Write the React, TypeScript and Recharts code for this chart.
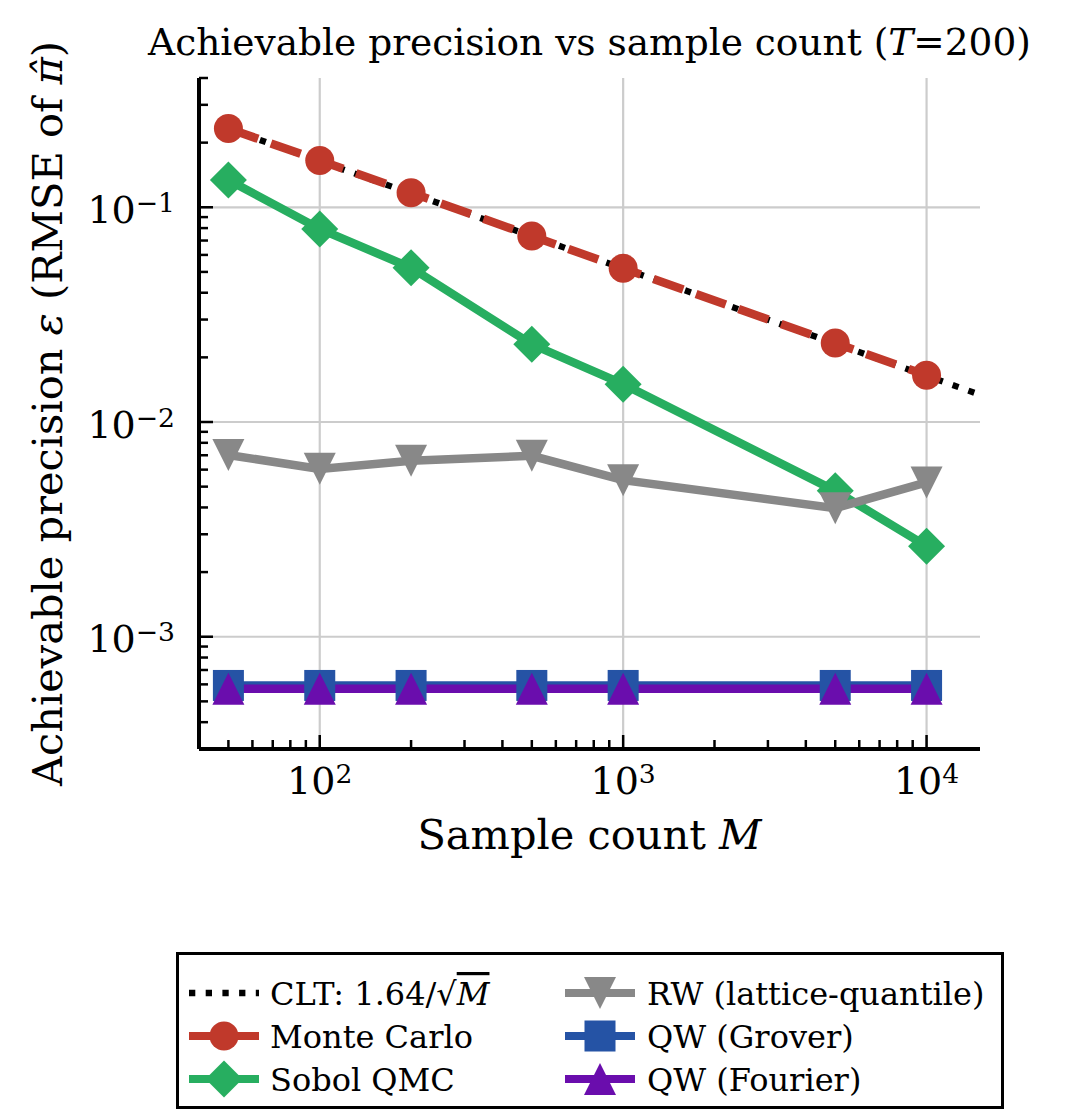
import React from 'react';
import { CartesianGrid, Label, Line, LineChart, XAxis, YAxis } from 'recharts';

const FONT = '"DejaVu Serif", "Liberation Serif", serif';

// sample counts M and the RMSE of each estimator at those counts
const sampleCounts = [50, 100, 200, 500, 1000, 5000, 10000];
const monteCarlo = [0.233, 0.165, 0.117, 0.0735, 0.052, 0.0233, 0.0165];
const sobolQmc = [0.134, 0.0792, 0.0523, 0.023, 0.015, 0.00478, 0.00264];
const rwLattice = [0.00702, 0.00605, 0.0066, 0.00696, 0.00536, 0.00397, 0.00523];
const qwGrover = [0.000593, 0.000593, 0.000593, 0.000593, 0.000593, 0.000593, 0.000593];
const qwFourier = [0.000572, 0.000572, 0.000572, 0.000572, 0.000572, 0.000572, 0.000572];

// CLT reference curve 1.64/sqrt(M)
const cltCounts = [50, 100, 1000, 10000, 15000];
const cltValues = [0.232, 0.164, 0.0519, 0.0164, 0.0134];

const xDomain: [number, number] = [40, 15000];
const yDomain: [number, number] = [3e-4, 0.4];
const xMajorTicks = [100, 1000, 10000];
const yMajorTicks = [0.001, 0.01, 0.1];
const mantissas = [1, 2, 3, 4, 5, 6, 7, 8, 9];

const inDomain = (d: [number, number]) => (v: number) => v >= d[0] * 0.999 && v <= d[1] * 1.001;
const xTicks = [10, 100, 1000, 10000].flatMap((d) => mantissas.map((m) => m * d)).filter(inDomain(xDomain));
const yTicks = [1e-4, 1e-3, 1e-2, 1e-1].flatMap((d) => mantissas.map((m) => m * d)).filter(inDomain(yDomain));

const rows = sampleCounts.map((m, i) => ({
  m,
  mc: monteCarlo[i],
  sobol: sobolQmc[i],
  rw: rwLattice[i],
  grover: qwGrover[i],
  fourier: qwFourier[i],
}));
const cltRows = cltCounts.map((m, i) => ({ m, clt: cltValues[i] }));

type Shape = 'circle' | 'diamond' | 'square' | 'triDown' | 'triUp';

interface SeriesDef {
  key: string;
  name: string;
  color: string;
  width: number;
  dash?: string;
  marker?: Shape;
}

const CLT: SeriesDef = { key: 'clt', name: 'CLT', color: '#000000', width: 6.3, dash: '6.3 10.4' };
const SERIES: SeriesDef[] = [
  { key: 'mc', name: 'Monte Carlo', color: '#c0392b', width: 8.5, dash: '31.5 13.6', marker: 'circle' },
  { key: 'sobol', name: 'Sobol QMC', color: '#27ae60', width: 8.5, marker: 'diamond' },
  { key: 'rw', name: 'RW (lattice-quantile)', color: '#888888', width: 8.5, marker: 'triDown' },
  { key: 'grover', name: 'QW (Grover)', color: '#2553a5', width: 8.5, marker: 'square' },
  { key: 'fourier', name: 'QW (Fourier)', color: '#6a0dad', width: 8.5, marker: 'triUp' },
];

function Marker({ shape, cx, cy, color }: { shape: Shape; cx: number; cy: number; color: string }) {
  if (shape === 'circle') return <circle cx={cx} cy={cy} r={14.5} fill={color} />;
  if (shape === 'square') return <rect x={cx - 15.5} y={cy - 15.5} width={31} height={31} fill={color} />;
  if (shape === 'diamond') {
    const h = 18.5;
    return <polygon points={`${cx},${cy - h} ${cx + h},${cy} ${cx},${cy + h} ${cx - h},${cy}`} fill={color} />;
  }
  const h = 16;
  const pts =
    shape === 'triDown'
      ? `${cx - h},${cy - h} ${cx + h},${cy - h} ${cx},${cy + h}`
      : `${cx},${cy - h} ${cx + h},${cy + h} ${cx - h},${cy + h}`;
  return <polygon points={pts} fill={color} />;
}

const isMajor = (v: number) => {
  const l = Math.log10(v);
  return Math.abs(l - Math.round(l)) < 1e-6;
};
const expText = (v: number) => String(Math.round(Math.log10(v))).replace('-', '\u2212');

const TICK_FONT = 38;
const LABEL_FONT = 41.5;
const LEGEND_FONT = 32;

function XTick(props: any) {
  const { x, y, payload } = props;
  const major = isMajor(payload.value);
  return (
    <g>
      <line x1={x} x2={x} y1={y} y2={y - (major ? 14 : 9)} stroke="#000" strokeWidth={2.5} />
      {major && (
        <text x={x} y={y + 45} textAnchor="middle" fontFamily={FONT} fontSize={TICK_FONT} fill="#000">
          10
          <tspan dy={-11} fontSize={TICK_FONT * 0.7}>
            {expText(payload.value)}
          </tspan>
        </text>
      )}
    </g>
  );
}

function YTick(props: any) {
  const { x, y, payload } = props;
  const major = isMajor(payload.value);
  return (
    <g>
      <line x1={x} x2={x + (major ? 14 : 9)} y1={y} y2={y} stroke="#000" strokeWidth={2.5} />
      {major && (
        <text x={x - 24} y={y + 15.5} textAnchor="end" fontFamily={FONT} fontSize={TICK_FONT} fill="#000">
          10
          <tspan dy={-11} fontSize={TICK_FONT * 0.7}>
            {expText(payload.value)}
          </tspan>
        </text>
      )}
    </g>
  );
}

function XLabel(props: any) {
  const vb = props.viewBox;
  return (
    <text x={vb.x + vb.width / 2} y={vb.y + 100} textAnchor="middle" fontFamily={FONT} fontSize={LABEL_FONT} fill="#000">
      Sample count <tspan fontStyle="italic">M</tspan>
    </text>
  );
}

function YLabel(props: any) {
  const vb = props.viewBox;
  const x = vb.x + vb.width - 137.5;
  const y = vb.y + vb.height / 2;
  return (
    <text
      x={x}
      y={y}
      transform={`rotate(-90, ${x}, ${y})`}
      textAnchor="middle"
      fontFamily={FONT}
      fontSize={LABEL_FONT}
      fill="#000"
    >
      Achievable precision <tspan fontStyle="italic">ε</tspan> (RMSE of{' '}
      <tspan fontStyle="italic">{'\u03C0\u0302'}</tspan>)
    </text>
  );
}

function LegendEntry({ s, cx, cy, textX }: { s: SeriesDef; cx: number; cy: number; textX: number }) {
  return (
    <g>
      <line
        x1={cx - 35}
        x2={cx + 35}
        y1={cy}
        y2={cy}
        stroke={s.color}
        strokeWidth={s.marker ? 8 : s.width}
        strokeDasharray={s.dash}
      />
      {s.marker && <Marker shape={s.marker} cx={cx} cy={cy} color={s.color} />}
      <text x={textX} y={cy + 12} fontFamily={FONT} fontSize={LEGEND_FONT} fill="#000">
        {s.key === 'clt' ? (
          <>
            CLT: 1.64/√<tspan fontStyle="italic" textDecoration="overline">M</tspan>
          </>
        ) : (
          s.name
        )}
      </text>
    </g>
  );
}

function ChartLegend() {
  const col1 = [CLT, SERIES[0], SERIES[1]];
  const col2 = [SERIES[2], SERIES[3], SERIES[4]];
  const rowY = (i: number) => 993 + i * 43;
  return (
    <g>
      <rect x={177.5} y={953.5} width={825} height={154} fill="#fff" stroke="#000" strokeWidth={3} />
      {col1.map((s, i) => (
        <LegendEntry key={s.key} s={s} cx={224} cy={rowY(i)} textX={270} />
      ))}
      {col2.map((s, i) => (
        <LegendEntry key={s.key} s={s} cx={600} cy={rowY(i)} textX={647} />
      ))}
    </g>
  );
}

export default function App() {
  return (
    <div style={{ position: 'absolute', left: 0, top: 0, width: 1065, height: 1119, background: '#fff' }}>
      <LineChart width={1065} height={1119} data={rows} margin={{ top: 78, right: 85, bottom: 250, left: 89 }}>
        <CartesianGrid
          stroke="#cccccc"
          strokeWidth={2.2}
          horizontalValues={yMajorTicks}
          verticalValues={xMajorTicks}
        />
        <XAxis
          dataKey="m"
          type="number"
          scale="log"
          domain={xDomain}
          allowDataOverflow
          ticks={xTicks}
          interval={0}
          height={120}
          tickSize={0}
          tickMargin={0}
          tickLine={false}
          axisLine={{ stroke: '#000', strokeWidth: 4 }}
          tick={(p: any) => <XTick {...p} />}
        >
          <Label content={(p: any) => <XLabel {...p} />} />
        </XAxis>
        <YAxis
          type="number"
          scale="log"
          domain={yDomain}
          allowDataOverflow
          ticks={yTicks}
          interval={0}
          width={110}
          tickSize={0}
          tickMargin={0}
          tickLine={false}
          axisLine={{ stroke: '#000', strokeWidth: 4 }}
          tick={(p: any) => <YTick {...p} />}
        >
          <Label content={(p: any) => <YLabel {...p} />} />
        </YAxis>
        <Line
          data={cltRows}
          dataKey="clt"
          stroke={CLT.color}
          strokeWidth={CLT.width}
          strokeDasharray={CLT.dash}
          dot={false}
          activeDot={false}
          isAnimationActive={false}
        />
        {SERIES.map((s) => (
          <Line
            key={s.key}
            dataKey={s.key}
            name={s.name}
            stroke={s.color}
            strokeWidth={s.width}
            strokeDasharray={s.dash}
            activeDot={false}
            isAnimationActive={false}
            dot={(p: any) => <Marker key={`${s.key}-${p.index}`} shape={s.marker as Shape} cx={p.cx} cy={p.cy} color={s.color} />}
          />
        ))}
      </LineChart>
      <svg
        width={1065}
        height={1119}
        style={{ position: 'absolute', left: 0, top: 0, pointerEvents: 'none' }}
      >
        <text x={589.5} y={55} textAnchor="middle" fontFamily={FONT} fontSize={37.5} fill="#000">
          Achievable precision vs sample count (<tspan fontStyle="italic">T</tspan>=200)
        </text>
        <ChartLegend />
      </svg>
    </div>
  );
}
